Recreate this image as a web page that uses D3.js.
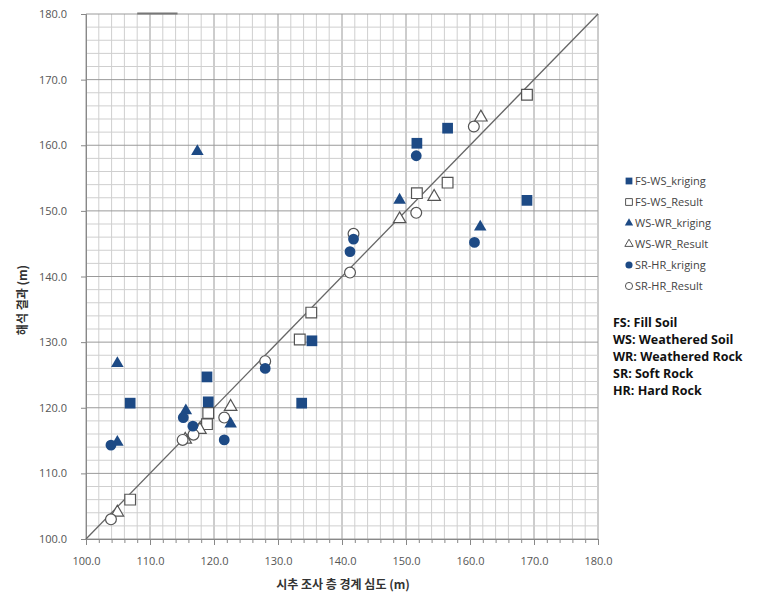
<!DOCTYPE html>
<html><head><meta charset="utf-8">
<script src="https://cdn.jsdelivr.net/npm/d3@7"></script>
<style>body{margin:0;background:#fff}svg{display:block}</style>
</head><body>
<svg id="c" width="781" height="598"></svg>
<script>
const seriesNames = ["FS-WS_kriging","FS-WS_Result","WS-WR_kriging","WS-WR_Result","SR-HR_kriging","SR-HR_Result"];
const fsWsKriging = [[106.9,120.7],[118.9,124.7],[119.1,120.9],[133.7,120.7],[135.3,130.2],[151.7,160.3],[156.5,162.6],[168.9,151.6]];
const fsWsResult = [[106.9,106.0],[118.9,117.5],[119.1,119.2],[133.4,130.4],[135.2,134.5],[151.7,152.7],[156.5,154.3],[168.9,167.7]];
const wsWrKriging = [[104.9,126.9],[104.9,114.9],[115.6,119.7],[122.6,117.7],[117.4,159.2],[149.0,151.8],[161.6,147.7]];
const wsWrResult = [[104.9,104.2],[115.5,115.3],[117.8,116.8],[122.6,120.3],[149.0,148.9],[154.4,152.3],[161.7,164.4]];
const srHrKriging = [[103.9,114.3],[115.2,118.5],[116.7,117.2],[121.6,115.1],[128.0,126.0],[141.25,143.8],[141.8,145.7],[151.6,158.4],[160.7,145.2]];
const srHrResult = [[103.9,103.0],[115.1,115.1],[116.8,115.9],[121.6,118.5],[128.0,127.1],[141.25,140.6],[141.8,146.5],[151.6,149.7],[160.6,162.85]];
const ticks = [100,110,120,130,140,150,160,170,180];
const minorTicks = d3.range(100,181,2);
const notes = ["FS: Fill Soil","WS: Weathered Soil","WR: Weathered Rock","SR: Soft Rock","HR: Hard Rock"];
const xTitle = "시추 조사 층 경계 심도 (m)";
const yTitle = "해석 결과 (m)";

const svg = d3.select("#c");
const x = d3.scaleLinear([100,180],[86,598]);
const y = d3.scaleLinear([100,180],[539,14]);
const blue = "#1d4a85", gray = "#555";
const font = "'Open Sans', 'Noto Sans CJK KR', sans-serif";

// grid
const g = svg.append("g");
g.selectAll(".vm").data(minorTicks).join("line")
  .attr("x1",d=>x(d)).attr("x2",d=>x(d)).attr("y1",y(100)).attr("y2",y(180))
  .attr("stroke",d=>d%10===0?"#9a9a9a":"#cfcfcf").attr("stroke-width",1);
g.selectAll(".hm").data(minorTicks).join("line")
  .attr("y1",d=>y(d)).attr("y2",d=>y(d)).attr("x1",x(100)).attr("x2",x(180))
  .attr("stroke",d=>d%10===0?"#9a9a9a":"#cfcfcf").attr("stroke-width",1);
// small darker segment on the top border (as in the reference)
svg.append("line").attr("x1",x(108)).attr("x2",x(114.3)).attr("y1",y(180)-0.5).attr("y2",y(180)-0.5)
  .attr("stroke","#777").attr("stroke-width",2);

// axes
const xAxis = svg.append("g").attr("transform",`translate(0,${y(100)})`)
  .call(d3.axisBottom(x).tickValues(minorTicks).tickSize(4).tickFormat(""));
xAxis.selectAll("path,line").attr("stroke","#888");
const xAxis2 = svg.append("g").attr("transform",`translate(0,${y(100)})`)
  .call(d3.axisBottom(x).tickValues(ticks).tickSize(6).tickPadding(12).tickFormat(d3.format(".1f")));
xAxis2.select("path").attr("stroke","#888");
xAxis2.selectAll("line").attr("stroke","#888");
xAxis2.selectAll("text").attr("font-family",font).attr("font-size",11).attr("fill",gray);

const yAxis = svg.append("g").attr("transform",`translate(${x(100)},0)`)
  .call(d3.axisLeft(y).tickValues(ticks).tickSize(5).tickPadding(14).tickFormat(d3.format(".1f")));
yAxis.selectAll("path,line").attr("stroke","#888");
yAxis.selectAll("text").attr("font-family",font).attr("font-size",11).attr("fill",gray);

// diagonal
svg.append("line").attr("x1",x(100)).attr("y1",y(100)).attr("x2",x(180)).attr("y2",y(180))
  .attr("stroke","#666").attr("stroke-width",1.3);

// markers
const sym = {sq:d3.symbol(d3.symbolSquare,115), tr:d3.symbol(d3.symbolTriangle,68), ci:d3.symbol(d3.symbolCircle,92)};
function draw(data, s, filled){
  svg.append("g").selectAll("path").data(data).join("path")
    .attr("d", sym[s]())
    .attr("transform", d=>`translate(${x(d[0])},${y(d[1])})` + (s==="tr"?" translate(0,1)":""))
    .attr("fill", filled?blue:"#fff")
    .attr("stroke", filled?"none":gray).attr("stroke-width",1.2);
}
draw(fsWsResult,"sq",false);
draw(wsWrResult,"tr",false);
draw(srHrResult,"ci",false);
draw(fsWsKriging,"sq",true);
draw(wsWrKriging,"tr",true);
draw(srHrKriging,"ci",true);

// legend
const legSym = {sq:d3.symbol(d3.symbolSquare,46), tr:d3.symbol(d3.symbolTriangle,30), ci:d3.symbol(d3.symbolCircle,40)};
const legShapes = ["sq","sq","tr","tr","ci","ci"];
const leg = svg.append("g");
seriesNames.forEach((n,i)=>{
  const yy = 181 + i*21;
  const filled = i%2===0;
  leg.append("path").attr("d",legSym[legShapes[i]]())
    .attr("transform",`translate(629,${yy})`)
    .attr("fill",filled?blue:"#fff").attr("stroke",filled?"none":gray).attr("stroke-width",1);
  leg.append("text").attr("x",635).attr("y",yy+4).text(n)
    .attr("font-family",font).attr("font-size",11).attr("fill","#444");
});

// notes
notes.forEach((t,i)=>{
  svg.append("text").attr("x",613).attr("y",327+i*17).text(t)
    .attr("font-family","'Open Sans', sans-serif").attr("font-weight","bold").attr("font-size",12.5).attr("fill","#111");
});

// titles
svg.append("text").attr("x",343).attr("y",589).attr("text-anchor","middle").text(xTitle)
  .attr("font-family","'Noto Sans CJK KR', sans-serif").attr("font-weight","bold").attr("font-size",12).attr("fill","#333");
svg.append("text").attr("transform","translate(27,300) rotate(-90)").attr("text-anchor","middle").text(yTitle)
  .attr("font-family","'Noto Sans CJK KR', sans-serif").attr("font-weight","bold").attr("font-size",12).attr("fill","#333");
</script>
</body></html>
